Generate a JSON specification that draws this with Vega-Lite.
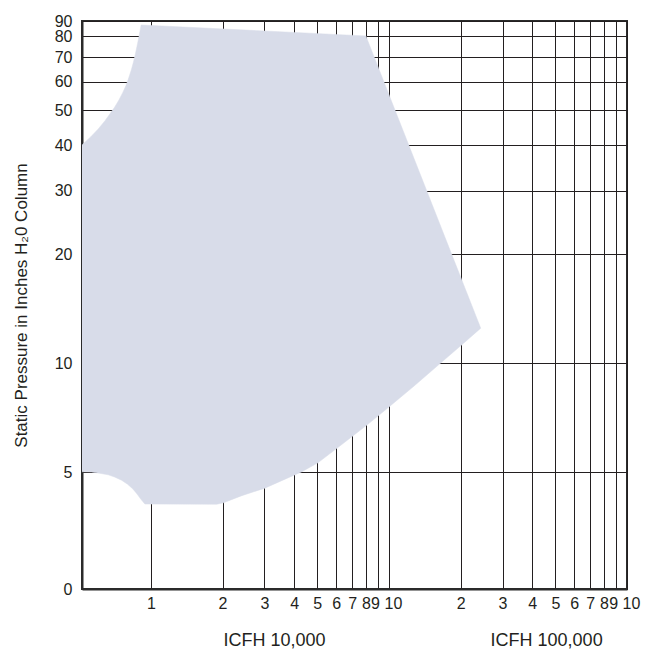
{
  "$schema": "https://vega.github.io/schema/vega-lite/v6.json",
  "width": 545,
  "height": 568,
  "autosize": {"type": "none"},
  "padding": {"left": 82, "top": 21, "right": 27, "bottom": 75},
  "background": "white",
  "config": {
    "font": "Liberation Sans, Arial, sans-serif",
    "view": {"stroke": "#2b2b2b", "strokeWidth": 2},
    "axis": {
      "grid": true,
      "gridColor": "#231f20",
      "gridWidth": 1,
      "gridOpacity": 1,
      "ticks": false,
      "domain": true,
      "domainColor": "#2b2b2b",
      "domainWidth": 2,
      "zindex": 1,
      "labelFont": "Liberation Sans, Arial, sans-serif",
      "labelFontSize": 16,
      "labelColor": "#231f20",
      "labelOverlap": false,
      "labelBound": false,
      "labelFlush": false,
      "titleFont": "Liberation Sans, Arial, sans-serif",
      "titleFontSize": 18,
      "titleFontWeight": "normal",
      "titleColor": "#231f20"
    }
  },
  "data": {
    "values": [
      {"i": 1, "cfh": 0.5135, "pressure": 40.1},
      {"i": 2, "cfh": 0.558, "pressure": 42.19},
      {"i": 3, "cfh": 0.6008, "pressure": 44.39},
      {"i": 4, "cfh": 0.6404, "pressure": 46.71},
      {"i": 5, "cfh": 0.6722, "pressure": 48.83},
      {"i": 6, "cfh": 0.7037, "pressure": 50.95},
      {"i": 7, "cfh": 0.7341, "pressure": 53.37},
      {"i": 8, "cfh": 0.7603, "pressure": 55.81},
      {"i": 9, "cfh": 0.7843, "pressure": 58.35},
      {"i": 10, "cfh": 0.8035, "pressure": 60.89},
      {"i": 11, "cfh": 0.8272, "pressure": 64.6},
      {"i": 12, "cfh": 0.845, "pressure": 67.98},
      {"i": 13, "cfh": 0.8606, "pressure": 71.52},
      {"i": 14, "cfh": 0.8782, "pressure": 76.22},
      {"i": 15, "cfh": 0.8937, "pressure": 80.71},
      {"i": 16, "cfh": 0.9095, "pressure": 86.0},
      {"i": 17, "cfh": 8.0, "pressure": 80.2},
      {"i": 18, "cfh": 24.3, "pressure": 12.5},
      {"i": 19, "cfh": 20.3, "pressure": 11.27},
      {"i": 20, "cfh": 16.44, "pressure": 10.0},
      {"i": 21, "cfh": 12.9, "pressure": 8.71},
      {"i": 22, "cfh": 9.97, "pressure": 7.56},
      {"i": 23, "cfh": 8.08, "pressure": 6.75},
      {"i": 24, "cfh": 6.94, "pressure": 6.25},
      {"i": 25, "cfh": 6.12, "pressure": 5.86},
      {"i": 26, "cfh": 5.03, "pressure": 5.31},
      {"i": 27, "cfh": 4.31, "pressure": 5.02},
      {"i": 28, "cfh": 3.01, "pressure": 4.52},
      {"i": 29, "cfh": 2.41, "pressure": 4.31},
      {"i": 30, "cfh": 2.02, "pressure": 4.12},
      {"i": 31, "cfh": 1.89, "pressure": 4.08},
      {"i": 32, "cfh": 0.9436, "pressure": 4.086},
      {"i": 33, "cfh": 0.9095, "pressure": 4.205},
      {"i": 34, "cfh": 0.8748, "pressure": 4.354},
      {"i": 35, "cfh": 0.84, "pressure": 4.496},
      {"i": 36, "cfh": 0.7982, "pressure": 4.632},
      {"i": 37, "cfh": 0.7529, "pressure": 4.754},
      {"i": 38, "cfh": 0.7037, "pressure": 4.852},
      {"i": 39, "cfh": 0.6619, "pressure": 4.92},
      {"i": 40, "cfh": 0.6084, "pressure": 4.97},
      {"i": 41, "cfh": 0.5628, "pressure": 5.008},
      {"i": 42, "cfh": 0.5135, "pressure": 5.018}
    ]
  },
  "mark": {
    "type": "line",
    "fill": "#d8dce9",
    "stroke": "#d8dce9",
    "strokeWidth": 0.5,
    "interpolate": "linear-closed",
    "clip": true
  },
  "encoding": {
    "x": {
      "field": "cfh",
      "type": "quantitative",
      "scale": {"type": "log", "domain": [0.5135, 100], "nice": false},
      "axis": {
        "values": [1, 2, 3, 4, 5, 6, 7, 8, 9, 10, 20, 30, 40, 50, 60, 70, 80, 90, 100],
        "labelExpr": "datum.value > 10 ? format(datum.value / 10, 'd') : format(datum.value, 'd')",
        "labelOffset": {
          "condition": [
            {"test": "datum.value == 9 || datum.value == 90", "value": -3},
            {"test": "datum.value == 10 || datum.value == 100", "value": 4}
          ],
          "value": 0
        },
        "labelPadding": 6,
        "title": "ICFH 10,000\u00a0\u00a0\u00a0\u00a0\u00a0\u00a0\u00a0\u00a0\u00a0\u00a0\u00a0\u00a0\u00a0\u00a0\u00a0\u00a0\u00a0\u00a0\u00a0\u00a0\u00a0\u00a0\u00a0\u00a0\u00a0\u00a0\u00a0\u00a0\u00a0\u00a0\u00a0\u00a0\u00a0ICFH 100,000",
        "titleAnchor": "start",
        "titleAlign": "left",
        "titleX": 141,
        "titleY": 42
      }
    },
    "y": {
      "field": "pressure",
      "type": "quantitative",
      "scale": {"type": "log", "domain": [2.38, 88.2], "nice": false},
      "axis": {
        "values": [2.38, 5, 10, 20, 30, 40, 50, 60, 70, 80, 88.2],
        "labelExpr": "datum.value < 3 ? '0' : datum.value > 85 ? '90' : format(datum.value, 'd')",
        "labelPadding": 10,
        "title": "Static Pressure in Inches H\u20820 Column",
        "titleFontSize": 17,
        "titlePadding": 24
      }
    },
    "order": {"field": "i", "type": "quantitative"}
  }
}
